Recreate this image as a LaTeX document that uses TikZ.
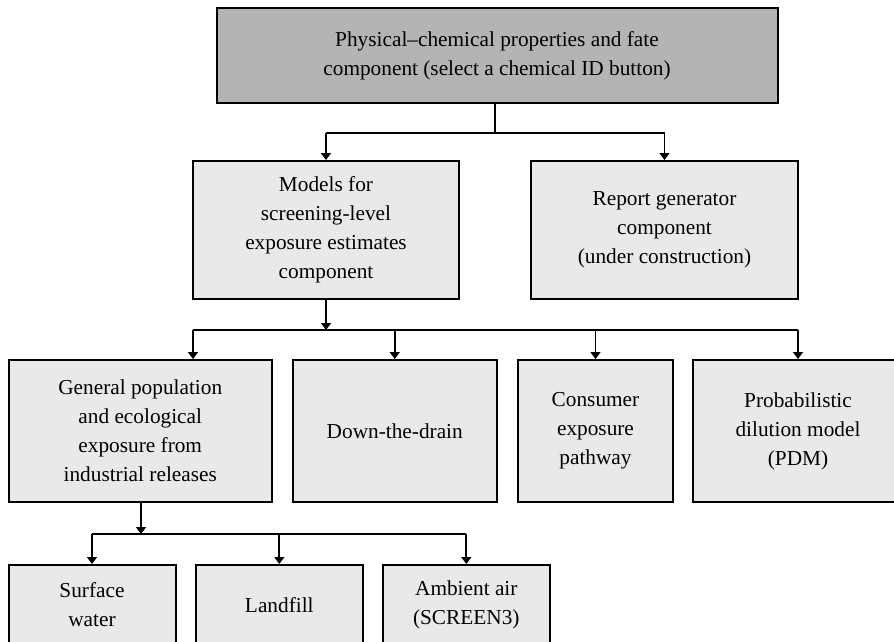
\documentclass[tikz,border=0pt]{standalone}
\usepackage{fontspec}
\setmainfont{Liberation Serif}
\usetikzlibrary{arrows.meta}
\definecolor{boxlight}{RGB}{233,233,233}
\definecolor{boxdark}{RGB}{180,180,180}
\begin{document}
\begin{tikzpicture}[x=1pt,y=-1pt,
  box/.style={draw=black,line width=2pt,fill=boxlight,align=center,inner sep=0pt,
    font=\fontsize{21.3}{29}\selectfont},
  conn/.style={draw=black,line width=1.7pt},
  arr/.style={conn,-{Triangle[width=10pt,length=7pt]}}]
\useasboundingbox (0,0) rectangle (894,642);
\clip (0,0) rectangle (894,642);
% nodes
\node[box,fill=boxdark,minimum width=561pt,minimum height=95pt] (top) at (497,55.5)
  {Physical--chemical properties and fate\\component (select a chemical ID button)};
\node[box,minimum width=266pt,minimum height=138pt] (models) at (326,230)
  {Models for\\screening-level\\exposure estimates\\component};
\node[box,minimum width=267pt,minimum height=138pt] (report) at (664.5,230)
  {Report generator\\component\\(under construction)};
\node[box,minimum width=263.5pt,minimum height=142pt] (gen) at (140.25,431)
  {General population\\and ecological\\exposure from\\industrial releases};
\node[box,minimum width=204.5pt,minimum height=142pt] (drain) at (394.75,431)
  {Down-the-drain};
\node[box,minimum width=155pt,minimum height=142pt] (cons) at (595.5,431)
  {Consumer\\exposure\\pathway};
\node[box,minimum width=210pt,minimum height=142pt] (pdm) at (798,431)
  {Probabilistic\\dilution model\\(PDM)};
\node[box,minimum width=167pt,minimum height=80pt] (surf) at (92,605)
  {Surface\\water};
\node[box,minimum width=166.6pt,minimum height=80pt] (land) at (279.3,605)
  {Landfill};
\node[box,minimum width=166.6pt,minimum height=80pt] (air) at (466.3,605)
  {Ambient air\\(SCREEN3)};
% bus coordinates
\coordinate (bus1) at (495,133);
\coordinate (bus2) at (193,330);
\coordinate (bus3) at (141,534);
% level 1 -> 2
\draw[conn] (top.south -| bus1) -- (bus1);
\draw[conn] (models.north |- bus1) -- (report.north |- bus1);
\draw[arr] (models.north |- bus1) -- (models.north);
\draw[arr] (report.north |- bus1) -- (report.north);
% level 2 -> 3
\draw[arr] (models.south) -- (models.south |- bus2);
\draw[conn] (bus2) -- (pdm.north |- bus2);
\draw[arr] (bus2) -- (bus2 |- gen.north);
\draw[arr] (drain.north |- bus2) -- (drain.north);
\draw[arr] (cons.north |- bus2) -- (cons.north);
\draw[arr] (pdm.north |- bus2) -- (pdm.north);
% level 3 -> 4
\draw[arr] (bus3 |- gen.south) -- (bus3);
\draw[conn] (surf.north |- bus3) -- (air.north |- bus3);
\draw[arr] (surf.north |- bus3) -- (surf.north);
\draw[arr] (land.north |- bus3) -- (land.north);
\draw[arr] (air.north |- bus3) -- (air.north);
\end{tikzpicture}
\end{document}
